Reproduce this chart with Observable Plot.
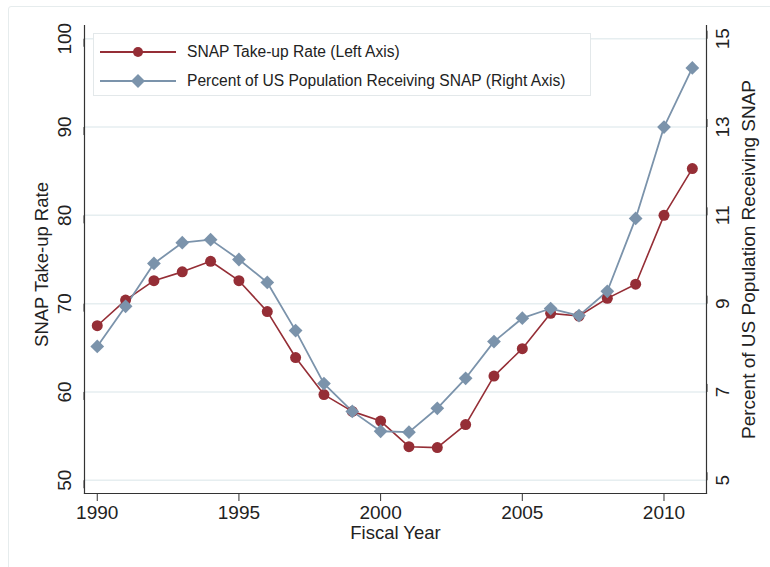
<!DOCTYPE html>
<html>
<head>
<meta charset="utf-8">
<script src="https://cdn.jsdelivr.net/npm/d3@7"></script>
<script src="https://cdn.jsdelivr.net/npm/@observablehq/plot@0.6"></script>
<style>
  html, body { margin: 0; padding: 0; background: #fff; }
  #wrap { position: relative; width: 770px; height: 567px; font-family: "Liberation Sans", Arial, sans-serif; overflow: hidden; }
  #outer { position: absolute; left: 8px; top: 6px; width: 775px; height: 580px; border: 1px solid #e6eced; border-radius: 3px; pointer-events: none; }
  #legend { position: absolute; left: 93px; top: 33px; width: 498px; height: 63px; background: #fff; border: 1px solid #e3e8ea; box-sizing: border-box; }
  .row { position: absolute; left: 6px; height: 20px; display: flex; align-items: center; font-size: 15.6px; color: #222; white-space: nowrap; }
  .row svg { margin-right: 11px; }
</style>
</head>
<body>
<div id="wrap"><div id="outer"></div><div id="chart"></div></div>
<script>
// ---- data ----
const years = [1990,1991,1992,1993,1994,1995,1996,1997,1998,1999,2000,2001,2002,2003,2004,2005,2006,2007,2008,2009,2010,2011];
const takeUpRate = [67.5,70.4,72.6,73.6,74.8,72.6,69.1,63.9,59.7,57.8,56.7,53.8,53.7,56.3,61.8,64.9,68.9,68.6,70.6,72.2,80.0,85.3];
const pctReceiving = [8.03,8.94,9.91,10.38,10.45,10.0,9.48,8.39,7.19,6.56,6.11,6.09,6.63,7.31,8.14,8.67,8.89,8.73,9.28,10.93,13.0,14.34];
const leftTicks = [50,60,70,80,90,100];
const rightTicks = [5,7,9,11,13,15];
const xTicks = [1990,1995,2000,2005,2010];
const seriesNames = ["SNAP Take-up Rate (Left Axis)", "Percent of US Population Receiving SNAP (Right Axis)"];

const red = "#952e36";
const blue = "#7b93ab";
const axisColor = "#333";

// right axis maps onto left scale: left = 50 + 5*(right - 5)
const toLeft = v => 50 + 5 * (v - 5);
const toRight = v => 5 + (v - 50) / 5;

const redData = years.map((y, i) => ({year: y, v: takeUpRate[i]}));
const blueData = years.map((y, i) => ({year: y, v: toLeft(pctReceiving[i])}));
const rightTickPos = rightTicks.map(toLeft);

const chart = Plot.plot({
  width: 770,
  height: 567,
  marginLeft: 84,
  marginRight: 64,
  marginTop: 25,
  marginBottom: 74,
  style: {fontFamily: "Liberation Sans, Arial, sans-serif", fontSize: "19px", color: "#222", background: "transparent", overflow: "visible"},
  x: {domain: [1989.55, 2011.5]},
  y: {domain: [48.5, 101.5]},
  marks: [
    Plot.gridY(leftTicks, {stroke: "#e6eef0", strokeOpacity: 1, strokeWidth: 1.5}),
    Plot.axisX(xTicks, {anchor: "bottom", tickSize: 8, tickPadding: 4, tickFormat: d => String(d), label: null, stroke: axisColor, fill: "#222", fontSize: 19}),
    Plot.axisY(leftTicks, {anchor: "left", tickSize: 8, tickPadding: 12, rotate: -90, textAnchor: "middle", tickFormat: d => String(d), label: null, stroke: axisColor, fill: "#222", fontSize: 19}),
    Plot.axisY(rightTickPos, {anchor: "right", tickSize: 8, tickPadding: 8, rotate: -90, textAnchor: "middle", tickFormat: d => String(toRight(d)), label: null, stroke: axisColor, fill: "#222", fontSize: 19}),
    Plot.frame({anchor: "left", stroke: axisColor, strokeWidth: 1.2}),
    Plot.frame({anchor: "right", stroke: axisColor, strokeWidth: 1.2}),
    Plot.frame({anchor: "bottom", stroke: axisColor, strokeWidth: 1.2}),
    // series
    Plot.line(redData, {x: "year", y: "v", stroke: red, strokeWidth: 1.6}),
    Plot.line(blueData, {x: "year", y: "v", stroke: blue, strokeWidth: 1.8}),
    Plot.dot(redData, {x: "year", y: "v", r: 5.5, fill: red, stroke: null}),
    Plot.dot(blueData, {x: "year", y: "v", r: 6.2, symbol: "diamond2", fill: blue, stroke: null}),
    // axis titles
    Plot.text(["Fiscal Year"], {frameAnchor: "bottom", dy: 45, text: d => d, fontSize: 18.5, fill: "#222", textAnchor: "middle"}),
    Plot.text(["SNAP Take-up Rate"], {frameAnchor: "left", dx: -42, dy: 5, rotate: -90, text: d => d, fontSize: 18.5, fill: "#222", textAnchor: "middle"}),
    Plot.text(["Percent of US Population Receiving SNAP"], {frameAnchor: "right", dx: 42, dy: 0, rotate: -90, text: d => d, fontSize: 19, fill: "#222", textAnchor: "middle"})
  ]
});
d3.select(chart).selectAll('g[aria-label$="tick label"]').attr("font-size", 19);
document.getElementById("chart").appendChild(chart);

// legend
const legend = document.createElement("div");
legend.id = "legend";
const colors = [red, blue];
seriesNames.forEach((name, i) => {
  const row = document.createElement("div");
  row.className = "row";
  row.style.top = (i === 0 ? 8 : 37) + "px";
  const sw = d3.create("svg").attr("width", 76).attr("height", 20);
  sw.append("line").attr("x1", 0).attr("x2", 76).attr("y1", 10).attr("y2", 10).attr("stroke", colors[i]).attr("stroke-width", 1.8);
  if (i === 0) sw.append("circle").attr("cx", 38).attr("cy", 10).attr("r", 5).attr("fill", red);
  else sw.append("path").attr("d", "M38,3 L45,10 L38,17 L31,10 Z").attr("fill", blue);
  row.appendChild(sw.node());
  const t = document.createElement("span");
  t.textContent = name;
  row.appendChild(t);
  legend.appendChild(row);
});
document.getElementById("wrap").appendChild(legend);
</script>
</body>
</html>
